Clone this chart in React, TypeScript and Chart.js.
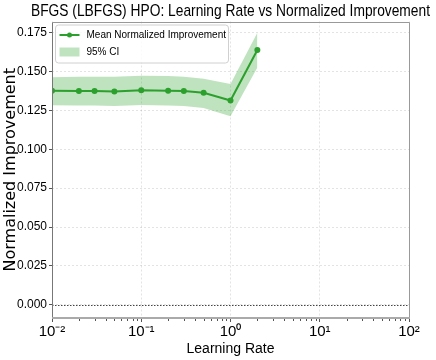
import { useEffect, useRef } from "react";
import { Chart, registerables } from "chart.js";

Chart.register(...registerables);

const learningRates = [0.01, 0.02, 0.03, 0.05, 0.1, 0.2, 0.3, 0.5, 1, 2];
const meanImprovement = [0.1375, 0.1373, 0.1373, 0.137, 0.1378, 0.1375, 0.1374, 0.1362, 0.1313, 0.1637];
const ciUpper = [0.1462, 0.1465, 0.1466, 0.1466, 0.1472, 0.147, 0.1465, 0.1452, 0.1418, 0.1748];
const ciLower = [0.1282, 0.128, 0.128, 0.1278, 0.1284, 0.128, 0.1277, 0.1265, 0.1212, 0.1525];

const yTickValues = [0, 0.025, 0.05, 0.075, 0.1, 0.125, 0.15, 0.175];
const xTickValues = [0.01, 0.1, 1, 10, 100];
const xTickLabels = ["10\u207B\u00B2", "10\u207B\u00B9", "10\u2070", "10\u00B9", "10\u00B2"];
const xMinorTickValues = [
  0.02, 0.03, 0.04, 0.05, 0.06, 0.07, 0.08, 0.09,
  0.2, 0.3, 0.4, 0.5, 0.6, 0.7, 0.8, 0.9,
  2, 3, 4, 5, 6, 7, 8, 9,
  20, 30, 40, 50, 60, 70, 80, 90,
];

const titleText = "BFGS (LBFGS) HPO: Learning Rate vs Normalized Improvement";
const xLabel = "Learning Rate";
const yLabel = "Normalized Improvement";
const meanLabel = "Mean Normalized Improvement";
const ciLabel = "95% CI";

const GREEN = "#2ca02c";
const BAND = "rgba(44,160,44,0.3)";
const SANS = "'Liberation Sans', Arial, sans-serif";

export default function App() {
  const ref = useRef<HTMLCanvasElement>(null);

  useEffect(() => {
    const canvas = ref.current!;

    const decorPlugin = {
      id: "decor",
      beforeDatasetsDraw(chart: any) {
        const { ctx, chartArea, scales } = chart;
        const y0 = Math.round(scales.y.getPixelForValue(0)) + 0.5;
        ctx.save();
        ctx.strokeStyle = "#444";
        ctx.lineWidth = 1;
        ctx.setLineDash([1.5, 1.5]);
        ctx.beginPath();
        ctx.moveTo(chartArea.left, y0);
        ctx.lineTo(chartArea.right, y0);
        ctx.stroke();
        ctx.restore();
      },
      afterDatasetsDraw(chart: any) {
        const { ctx, chartArea, scales } = chart;
        const l = Math.round(chartArea.left) + 0.5;
        const r = Math.round(chartArea.right) + 0.5;
        const t = Math.round(chartArea.top) + 0.5;
        const b = Math.round(chartArea.bottom);
        ctx.save();
        ctx.setLineDash([]);
        ctx.lineWidth = 1;
        ctx.strokeStyle = "#999";
        ctx.beginPath();
        ctx.moveTo(l, t);
        ctx.lineTo(r, t);
        ctx.lineTo(r, b);
        ctx.stroke();
        ctx.strokeStyle = "#777";
        ctx.beginPath();
        ctx.moveTo(l, t);
        ctx.lineTo(l, b + 1);
        ctx.stroke();
        ctx.strokeStyle = "#aaa";
        ctx.lineWidth = 2;
        ctx.beginPath();
        ctx.moveTo(l - 0.5, b);
        ctx.lineTo(r + 0.5, b);
        ctx.stroke();
        ctx.lineWidth = 1;
        ctx.strokeStyle = "#555";
        for (const v of xMinorTickValues) {
          const x = Math.round(scales.x.getPixelForValue(v)) + 0.5;
          ctx.beginPath();
          ctx.moveTo(x, b + 1);
          ctx.lineTo(x, b + 3);
          ctx.stroke();
        }
        ctx.restore();
      },
      afterDraw(chart: any) {
        const { ctx, chartArea } = chart;
        ctx.save();
        ctx.fillStyle = "#000";
        ctx.font = `17px ${SANS}`;
        ctx.textAlign = "center";
        ctx.textBaseline = "middle";
        ctx.fillText(titleText, (chartArea.left + chartArea.right) / 2, 11.5, 399);
        ctx.restore();

        const bx = chartArea.left + 3.5;
        const by = chartArea.top + 3.5;
        const bw = 173;
        const bh = 38;
        ctx.save();
        ctx.beginPath();
        ctx.roundRect(bx, by, bw, bh, 3);
        ctx.fillStyle = "rgba(255,255,255,0.8)";
        ctx.fill();
        ctx.strokeStyle = "#d0d0d0";
        ctx.lineWidth = 1;
        ctx.stroke();
        const y1 = by + 10;
        ctx.strokeStyle = GREEN;
        ctx.lineWidth = 2;
        ctx.beginPath();
        ctx.moveTo(bx + 4, y1);
        ctx.lineTo(bx + 24, y1);
        ctx.stroke();
        ctx.fillStyle = GREEN;
        ctx.beginPath();
        ctx.arc(bx + 14, y1, 2.5, 0, Math.PI * 2);
        ctx.fill();
        const y2 = by + 27;
        ctx.fillStyle = BAND;
        ctx.fillRect(bx + 4, y2 - 4.5, 20, 9);
        ctx.fillStyle = "#000";
        ctx.font = `10px ${SANS}`;
        ctx.textBaseline = "middle";
        ctx.textAlign = "left";
        ctx.fillText(meanLabel, bx + 31, y1);
        ctx.fillText(ciLabel, bx + 31, y2);
        ctx.restore();
      },
    };

    const chart = new Chart(canvas, {
      type: "line",
      data: {
        datasets: [
          {
            label: "CI lower",
            data: learningRates.map((x, i) => ({ x, y: ciLower[i] })),
            borderWidth: 0,
            borderColor: "rgba(0,0,0,0)",
            pointRadius: 0,
            fill: false,
            order: 2,
          },
          {
            label: ciLabel,
            data: learningRates.map((x, i) => ({ x, y: ciUpper[i] })),
            borderWidth: 0,
            borderColor: "rgba(0,0,0,0)",
            backgroundColor: BAND,
            pointRadius: 0,
            fill: { target: 0 },
            order: 1,
          },
          {
            label: meanLabel,
            data: learningRates.map((x, i) => ({ x, y: meanImprovement[i] })),
            borderColor: GREEN,
            backgroundColor: GREEN,
            borderWidth: 2,
            pointRadius: 3,
            pointBorderWidth: 0,
            pointBackgroundColor: GREEN,
            fill: false,
            tension: 0,
            order: 0,
          },
        ],
      },
      options: {
        responsive: false,
        animation: false,
        events: [],
        layout: { padding: { top: 21.5, right: 27, bottom: 0, left: 0 } },
        plugins: {
          legend: { display: false },
          tooltip: { enabled: false },
          title: { display: false },
        },
        scales: {
          x: {
            type: "logarithmic",
            min: 0.01,
            max: 100,
            afterBuildTicks: (s: any) => {
              s.ticks = xTickValues.map((v) => ({ value: v }));
            },
            afterFit: (s: any) => {
              s.height = 42;
            },
            ticks: {
              autoSkip: false,
              maxRotation: 0,
              padding: 1,
              color: "#000",
              font: { family: SANS, size: 15 },
              callback: (_v: any, i: number) => xTickLabels[i],
            },
            grid: {
              color: "rgba(0,0,0,0.11)",
              lineWidth: 1,
              tickColor: "#555",
              tickLength: 4,
            },
            border: { display: false, dash: [2, 2] },
            title: {
              display: true,
              text: xLabel,
              color: "#000",
              font: { family: SANS, size: 14 },
              padding: { top: 0, bottom: 2 },
            },
          },
          y: {
            type: "linear",
            min: -0.0084,
            max: 0.182,
            afterBuildTicks: (s: any) => {
              s.ticks = yTickValues.map((v) => ({ value: v }));
            },
            afterFit: (s: any) => {
              s.width = 52;
            },
            ticks: {
              autoSkip: false,
              padding: 2,
              color: "#000",
              font: { family: SANS, size: 12 },
              callback: (v: any) => Number(v).toFixed(3),
            },
            grid: {
              color: "rgba(0,0,0,0.11)",
              lineWidth: 1,
              tickColor: "#555",
              tickLength: 3,
            },
            border: { display: false, dash: [2, 2] },
            title: {
              display: true,
              text: yLabel,
              color: "#000",
              font: { family: "'DejaVu Sans', sans-serif", size: 16 },
              padding: { top: 1, bottom: 0 },
            },
          },
        },
      },
      plugins: [decorPlugin],
    } as any);

    return () => chart.destroy();
  }, []);

  return (
    <div style={{ position: "absolute", left: 0, top: 0, width: 436, height: 360, background: "#fff" }}>
      <canvas ref={ref} width={436} height={360} style={{ display: "block" }} />
    </div>
  );
}
